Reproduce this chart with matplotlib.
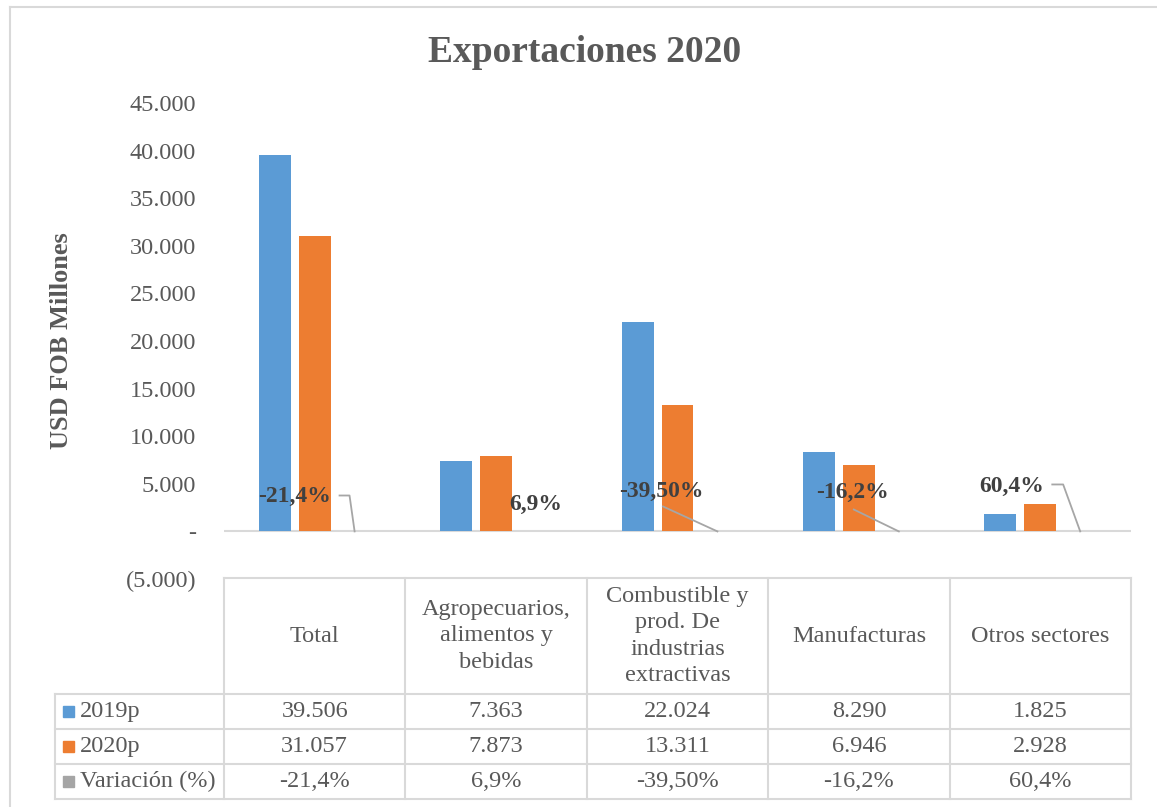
import numpy as np
import matplotlib.pyplot as plt
from matplotlib.lines import Line2D
from matplotlib.patches import Rectangle
from matplotlib.ticker import FuncFormatter

plt.rcParams['font.family'] = ['Liberation Serif', 'DejaVu Serif']

# data
categories = ['Total', 'Agropecuarios,\nalimentos y\nbebidas',
              'Combustible y\nprod. De\nindustrias\nextractivas',
              'Manufacturas', 'Otros sectores']
series_names = ['2019p', '2020p', 'Variación (%)']
exp_2019 = [39506, 7363, 22024, 8290, 1825]
exp_2020 = [31057, 7873, 13311, 6946, 2928]
variacion = [-21.4, 6.9, -39.50, -16.2, 60.4]
variacion_txt = ['-21,4%', '6,9%', '-39,50%', '-16,2%', '60,4%']

BLUE, ORANGE, GRAY = '#5B9BD5', '#ED7D31', '#A5A5A5'
GRID = '#D9D9D9'
TXT = '#595959'

W, H = 1157, 807


def fx(px):
    return px / W


def fy(py):
    return 1 - py / H


def miles(v):
    return f'{v:,}'.replace(',', '.')


fig = plt.figure(figsize=(W / 100, H / 100), dpi=100)

left, right, top, bottom = 224, 1131, 103, 579
ax = fig.add_axes([fx(left), fy(bottom), fx(right) - fx(left), fy(top) - fy(bottom)])

x = np.arange(len(categories))
bw, step = 0.176, 0.22
var_h = np.array(variacion) / 100  # same axis as USD -> almost invisible
ax.bar(x - step, exp_2019, bw, color=BLUE, zorder=2)
ax.bar(x, exp_2020, bw, color=ORANGE, zorder=2)
ax.bar(x + step, var_h, bw, color=GRAY, zorder=2)

ax.set_xlim(-0.5, len(categories) - 0.5)
ax.set_ylim(-5000, 45000)
ax.set_yticks(np.arange(-5000, 45001, 5000))


def fmt(v, pos):
    if v == 0:
        return '-'
    if v < 0:
        return '(' + miles(int(-v)) + ')'
    return miles(int(v))


ax.yaxis.set_major_formatter(FuncFormatter(fmt))
ax.tick_params(axis='y', length=0, pad=20, labelsize=17.5, labelcolor=TXT)
ax.set_xticks([])
for s in ax.spines.values():
    s.set_visible(False)
ax.axhline(0, color=GRID, lw=1.5, zorder=1)

# data labels of Variación (with leader lines), offsets relative to the gray bar
label_off = [(-0.33, 3670), (0.0, 2830), (-0.31, 4190), (-0.253, 4090), (-0.38, 4720)]
leaders = [[(-0.083, 3770), (-0.028, 3770)], None, [(-0.30, 2620)],
           [(-0.248, 2300)], [(-0.154, 4930), (-0.094, 4930)]]
for i, txt in enumerate(variacion_txt):
    xb = x[i] + step
    dx, yy = label_off[i]
    ax.text(xb + dx, yy, txt, ha='center', va='center', fontsize=17,
            fontweight='bold', color='#404040', zorder=4)
    if leaders[i]:
        pts = [(xb + a, b) for a, b in leaders[i]] + [(xb, var_h[i])]
        ax.plot([p[0] for p in pts], [p[1] for p in pts], color='#A6A6A6',
                lw=1.3, zorder=3)

# data table below the plot
col_w = (right - left) / len(categories)
leg_left = 55
rows = [578, 694, 729, 764, 799]


def hline(y, x0, x1):
    fig.add_artist(Line2D([fx(x0), fx(x1)], [fy(y), fy(y)], color=GRID, lw=1.5))


def vline(xp, y0, y1):
    fig.add_artist(Line2D([fx(xp), fx(xp)], [fy(y0), fy(y1)], color=GRID, lw=1.5))


hline(rows[0], left, right)
for y in rows[1:]:
    hline(y, leg_left, right)
for k in range(len(categories) + 1):
    vline(left + k * col_w, rows[0], rows[-1])
vline(leg_left, rows[1], rows[-1])

for i, cat in enumerate(categories):
    cx = left + (i + 0.5) * col_w
    fig.text(fx(cx), fy((rows[0] + rows[1]) / 2), cat, ha='center', va='center',
             fontsize=17.5, color=TXT, linespacing=1.32)

table_vals = [[miles(v) for v in exp_2019], [miles(v) for v in exp_2020], variacion_txt]
colors = [BLUE, ORANGE, GRAY]
for r, (name, vals) in enumerate(zip(series_names, table_vals)):
    cy = (rows[r + 1] + rows[r + 2]) / 2
    fig.add_artist(Rectangle((fx(63), fy(cy + 5.5)), fx(11), 11 / H, color=colors[r],
                             transform=fig.transFigure))
    fig.text(fx(80), fy(cy), name, ha='left', va='center', fontsize=17.5, color=TXT)
    for i, v in enumerate(vals):
        cx = left + (i + 0.5) * col_w
        fig.text(fx(cx), fy(cy), v, ha='center', va='center', fontsize=17.5, color=TXT)

# title, axis label, chart frame
fig.text(fx(585), fy(62), 'Exportaciones 2020', ha='center', va='baseline',
         fontsize=27, fontweight='bold', color=TXT)
fig.text(fx(62), fy(341), 'USD FOB Millones', ha='center', va='center', rotation=90,
         fontsize=19, fontweight='bold', color=TXT)
fig.add_artist(Line2D([fx(10), 1], [fy(7), fy(7)], color=GRID, lw=1.5))
fig.add_artist(Line2D([fx(10), fx(10)], [fy(7), 0], color=GRID, lw=1.5))

fig.savefig('out.png', dpi=100)
